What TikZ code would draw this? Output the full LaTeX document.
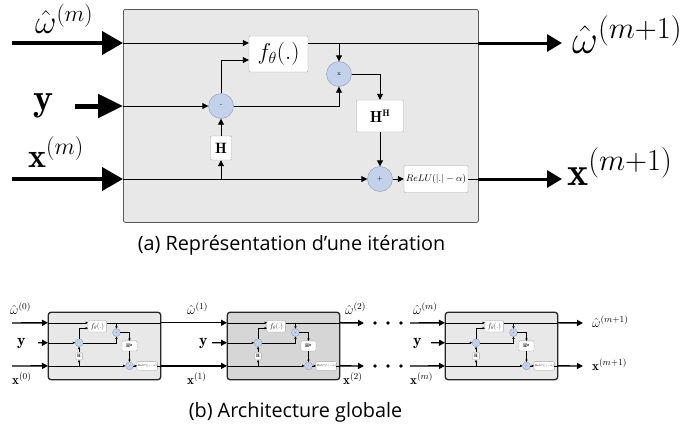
\RequirePackage{fix-cm}
\documentclass[tikz,border=0pt]{standalone}
\usepackage{fontspec}
\newfontfamily\capfont{Open Sans}
\newcommand\supbig[1]{\mbox{\fontsize{30.5}{30.5}\selectfont$#1$}}
\newcommand\suphh[1]{\mbox{\fontsize{9.5}{9.5}\selectfont$#1$}}
\usetikzlibrary{arrows.meta}
\definecolor{opblue}{HTML}{C3D2EA}
\definecolor{opedge}{HTML}{8A98AE}
\tikzset{
  blk/.style={draw=black!65, fill=black!9, rounded corners=2pt, line width=0.8pt,
    minimum width=355pt, minimum height=213pt, inner sep=0pt, anchor=north west},
  ln/.style={line width=0.9pt, black},
  arr/.style={ln, -{Triangle[length=6pt,width=6pt]}},
  op/.style={circle, draw=opedge, fill=opblue, minimum size=25pt, inner sep=0pt,
    font=\fontsize{6}{6}\selectfont},
  wbox/.style={draw=black!35, fill=white, inner sep=0pt, rounded corners=1pt},
  bigarr/.style={line width=4pt, -{Triangle[length=21pt,width=23pt]}},
  outarr/.style={line width=3pt, -{Triangle[length=15pt,width=17pt]}},
  minarr/.style={line width=1.4pt, -{Triangle[length=6pt,width=6pt]}},
  lab/.style={inner sep=0pt, anchor=base west},
  capt/.style={font=\capfont\fontsize{19.8}{22}\selectfont},
  minib/.style={scale=0.317, transform shape,
    ln/.style={line width=0.35pt, black},
    arr/.style={ln, -{Triangle[length=2.3pt,width=2.3pt]}},
    nodes={line width=0.3pt},
    blk/.append style={draw=black!85, line width=1.3pt, rounded corners=3pt}},
  pics/iterblock/.style={code={
    \node[blk] (-box) at (0,0) {};
    \coordinate (-win) at (0,34);
    \coordinate (-yin) at (0,97);
    \coordinate (-xin) at (0,170);
    \coordinate (-wout) at (355,34);
    \coordinate (-xout) at (355,170);
    \coordinate (-fy) at (0,51);
    \node[wbox, minimum width=59pt, minimum height=36pt, font=\fontsize{23}{23}\selectfont] (-f) at (155.5,45) {$f_\theta(.)$};
    \node[op] (-minus) at (98,97) {-};
    \node[wbox, minimum width=21pt, minimum height=24pt, font=\fontsize{15}{15}\selectfont] (-H) at (98,139) {$\mathbf{H}$};
    \node[op] (-times) at (216,65) {x};
    \node[wbox, minimum width=47pt, minimum height=32pt, font=\fontsize{16}{16}\selectfont] (-HH) at (257,107) {$\mathbf{H}^{\suphh{\mathbf{H}}}$};
    \node[op] (-plus) at (257,170) {+};
    \node[wbox, minimum width=64pt, minimum height=27pt, font=\fontsize{9.5}{9.5}\selectfont] (-relu) at (313,170) {$ReLU(|.|-\alpha)$};
    \draw[arr] (-win) -- (-win -| -f.west);
    \draw[ln] (-f.east |- -win) -- (-wout);
    \draw[arr] (-times |- -win) -- (-times.north);
    \draw[arr] (-yin) -- (-minus.west);
    \draw[arr] (-minus.north) |- (-f.west |- -fy);
    \draw[arr] (-minus.east) -| (-times.south);
    \draw[arr] (-times.east) -| (-HH.north);
    \draw[arr] (-HH.south) -- (-plus.north);
    \draw[arr] (-xin) -- (-plus.west);
    \draw[arr] (-H |- -xin) -- (-H.south);
    \draw[arr] (-H.north) -- (-minus.south);
    \draw[arr] (-plus.east) -- (-relu.west);
    \draw[ln] (-relu.east) -- (-xout);
  }}
}
\begin{document}
\begin{tikzpicture}[x=1pt, y=-1pt]
\useasboundingbox (0,0) rectangle (697,432);
% ---------- (a) single iteration ----------
\pic (A) at (123,9) {iterblock};
\coordinate (s1) at (12,43);
\coordinate (s2) at (75,106);
\coordinate (s3) at (12,179);
\coordinate (e1) at (562,43);
\coordinate (e2) at (562,179);
\draw[bigarr] (s1) -- (A-win);
\draw[line width=5pt, -{Triangle[length=25pt,width=23pt]}] (s2) -- (A-yin);
\draw[bigarr] (s3) -- (A-xin);
\draw[outarr] (A-wout) -- (e1);
\draw[outarr] (A-xout) -- (e2);
\node[lab, font=\fontsize{33}{33}\selectfont] (lw) at (35,33) {$\hat{\omega}^{(m)}$};
\node[lab, font=\fontsize{38}{38}\selectfont] (ly) at (33,110) {$\mathbf{y}$};
\node[lab, font=\fontsize{34}{34}\selectfont] (lx) at (28,167) {$\mathbf{x}^{(m)}$};
\node[lab, font=\fontsize{40}{40}\selectfont] (rw) at (572,53) {$\hat{\omega}^{\supbig{(m{+}1)}}$};
\node[lab, font=\fontsize{40}{40}\selectfont] (rx) at (567,185) {$\mathbf{x}^{\supbig{(m{+}1)}}$};
\node[capt] (capa) at (291.5,245) {(a) Représentation d’une itération};
% ---------- (b) global architecture ----------
\pic[minib] (b1) at (48,312) {iterblock};
\pic[minib, blk/.append style={fill=black!16}] (b2) at (227,312) {iterblock};
\pic[minib] (b3) at (445,312) {iterblock};
\coordinate (p1) at (12,323);
\coordinate (p2) at (38,342.7);
\coordinate (p3) at (12,366);
\coordinate (p4) at (212,342.7);
\coordinate (p5) at (410,323);
\coordinate (p6) at (431,342.7);
\coordinate (p7) at (410,366);
\coordinate (q1) at (364,323);
\coordinate (q2) at (364,366);
\coordinate (q3) at (583,323);
\coordinate (q4) at (583,366);
\draw[minarr] (p1) -- (b1-win);
\draw[minarr] (p2) -- (b1-yin);
\draw[minarr] (p3) -- (b1-xin);
\draw[minarr] (b1-wout) -- (b2-win);
\draw[minarr] (b1-xout) -- (b2-xin);
\draw[minarr] (p4) -- (b2-yin);
\draw[minarr] (b2-wout) -- (q1);
\draw[minarr] (b2-xout) -- (q2);
\draw[minarr] (p5) -- (b3-win);
\draw[minarr] (p6) -- (b3-yin);
\draw[minarr] (p7) -- (b3-xin);
\draw[minarr] (b3-wout) -- (q3);
\draw[minarr] (b3-xout) -- (q4);
\foreach \dx in {375,388,401}{
  \fill (\dx,323) circle (1.8);
  \fill (\dx,366) circle (1.8);
}
\tikzset{sl/.style={lab, font=\fontsize{13}{13}\selectfont}, syl/.style={lab, font=\fontsize{16}{16}\selectfont}}
\node[sl] (w0) at (10,314) {$\hat{\omega}^{(0)}$};
\node[syl] (y0) at (17,345) {$\mathbf{y}$};
\node[sl] (x0) at (12,384) {$\mathbf{x}^{(0)}$};
\node[sl] (w1) at (187,314) {$\hat{\omega}^{(1)}$};
\node[syl] (y1) at (199,345) {$\mathbf{y}$};
\node[sl] (x1) at (187,384) {$\mathbf{x}^{(1)}$};
\node[sl] (w2) at (345,314) {$\hat{\omega}^{(2)}$};
\node[sl] (x2) at (343,384) {$\mathbf{x}^{(2)}$};
\node[sl] (wm) at (413,314) {$\hat{\omega}^{(m)}$};
\node[syl] (ym) at (413,345) {$\mathbf{y}$};
\node[sl] (xm) at (410,384) {$\mathbf{x}^{(m)}$};
\node[sl] (wm1) at (592,327) {$\hat{\omega}^{(m+1)}$};
\node[sl] (xm1) at (592,370) {$\mathbf{x}^{(m+1)}$};
\node[capt] (capb) at (295.5,412) {(b) Architecture globale};
\end{tikzpicture}
\end{document}
